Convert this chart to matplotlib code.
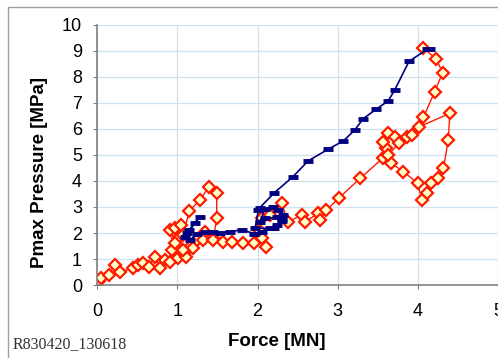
import matplotlib.pyplot as plt
from matplotlib.patches import Rectangle

# blue series (loading path)
blue_f = [1.10, 1.14, 1.28, 1.22, 1.12, 1.16, 1.25, 1.35, 1.45, 1.53,
          1.65, 1.80, 1.96, 2.05, 2.15, 2.24, 2.30, 2.32, 2.26, 2.19,
          2.09, 2.03, 2.09, 2.24, 2.30, 2.20, 1.97, 2.01, 2.03, 2.21,
          2.44, 2.63, 2.88, 3.07, 3.21, 3.32, 3.48, 3.63, 3.71, 3.89,
          4.12, 4.15]
blue_p = [1.85, 2.10, 2.63, 2.37, 2.00, 1.75, 1.95, 2.05, 2.05, 2.00,
          2.05, 2.12, 1.98, 2.05, 2.20, 2.31, 2.55, 2.69, 2.88, 3.01,
          2.92, 2.43, 2.56, 2.60, 2.45, 2.18, 2.18, 2.88, 2.98, 3.55,
          4.16, 4.77, 5.22, 5.54, 5.95, 6.40, 6.76, 7.08, 7.49, 8.60,
          9.07, 9.07]

# red series
red_f = [0.02, 0.05, 0.14, 0.22, 0.28, 0.45, 0.51, 0.57, 0.64, 0.72,
         0.78, 0.84, 0.91, 0.93, 1.01, 1.07, 1.11, 1.16, 1.24, 1.20,
         1.07, 1.01, 0.97, 0.91, 0.97, 1.05, 1.07, 1.15, 1.28, 1.39,
         1.49, 1.49, 1.45, 1.34, 1.32, 1.45, 1.57, 1.68, 1.82, 1.95,
         2.05, 2.11, 2.02, 2.05, 2.15, 2.30, 2.38, 2.55, 2.59, 2.76,
         2.78, 2.86, 3.02, 3.28, 3.56, 3.63, 3.60, 3.57, 3.63, 3.71,
         3.77, 3.86, 3.93, 4.02, 4.40, 4.38, 4.32, 4.25, 4.17, 4.11,
         4.05, 4.00, 3.82, 3.67, 3.63, 4.07, 4.21, 4.31, 4.23, 4.07]
red_p = [0.15, 0.26, 0.38, 0.77, 0.51, 0.64, 0.77, 0.83, 0.70, 1.09,
         0.64, 0.96, 0.90, 1.35, 1.03, 1.22, 1.09, 1.47, 1.73, 1.41,
         1.35, 1.80, 1.60, 2.12, 2.18, 2.31, 1.92, 2.85, 3.27, 3.76,
         3.55, 2.56, 1.80, 2.05, 1.73, 1.73, 1.67, 1.67, 1.60, 1.60,
         1.79, 1.47, 2.11, 2.56, 2.69, 3.14, 2.43, 2.69, 2.43, 2.76,
         2.50, 2.88, 3.36, 4.10, 4.87, 5.00, 5.26, 5.51, 5.83, 5.70,
         5.47, 5.70, 5.77, 6.09, 6.60, 5.58, 4.49, 4.10, 3.91, 3.53,
         3.27, 3.91, 4.36, 4.68, 5.00, 6.45, 7.43, 8.17, 8.68, 9.12]

x_ticks = [0, 1, 2, 3, 4, 5]
y_ticks = list(range(0, 11))

plt.rcParams['font.family'] = ['Liberation Sans', 'DejaVu Sans']

fig = plt.figure(figsize=(4.98, 3.58), dpi=100)
ax = fig.add_axes([0.1954, 0.2039, 0.8045, 0.7263])

ax.plot(blue_f, blue_p, color='#000080', lw=1.2, marker='_', ms=7, mew=3.5, zorder=3)
ax.plot(red_f, red_p, color='#ff1a00', lw=1.0, marker='D', ms=6, mfc='#ffffc8',
        mec='#ff1a00', mew=1.6, zorder=2)

ax.set_xlim(0, 5)
ax.set_ylim(0, 10)
ax.set_xticks(x_ticks)
ax.set_yticks(y_ticks)
ax.grid(True, color='#cfe0ee', lw=0.9)
ax.set_axisbelow(True)
for s in ['top', 'right']:
    ax.spines[s].set_visible(False)
for s in ['left', 'bottom']:
    ax.spines[s].set_color('#808080')
    ax.spines[s].set_linewidth(1.2)
ax.tick_params(axis='x', length=3, color='#808080', pad=10, labelsize=13)
ax.tick_params(axis='y', length=3, color='#808080', pad=8, labelsize=13)

fig.text(40 / 498, 1 - 172 / 358, 'Pmax Pressure [MPa]', rotation=90,
         ha='center', va='center', fontsize=13.5, fontweight='bold')
fig.text(277 / 498, 1 - 341 / 358, 'Force [MN]', ha='center', va='center',
         fontsize=13.5, fontweight='bold')
fig.text(13 / 498, 1 - 344 / 358, 'R830420_130618', ha='left', va='center',
         fontsize=11.5, family='Liberation Serif', color='#333333')

fig.patches.append(Rectangle((8 / 498, -0.1), 1.2, 1 - 7.3 / 358 + 0.1,
                             transform=fig.transFigure, fill=False,
                             edgecolor='#a0a0a0', lw=1.0))

fig.savefig('out.png', dpi=100)
